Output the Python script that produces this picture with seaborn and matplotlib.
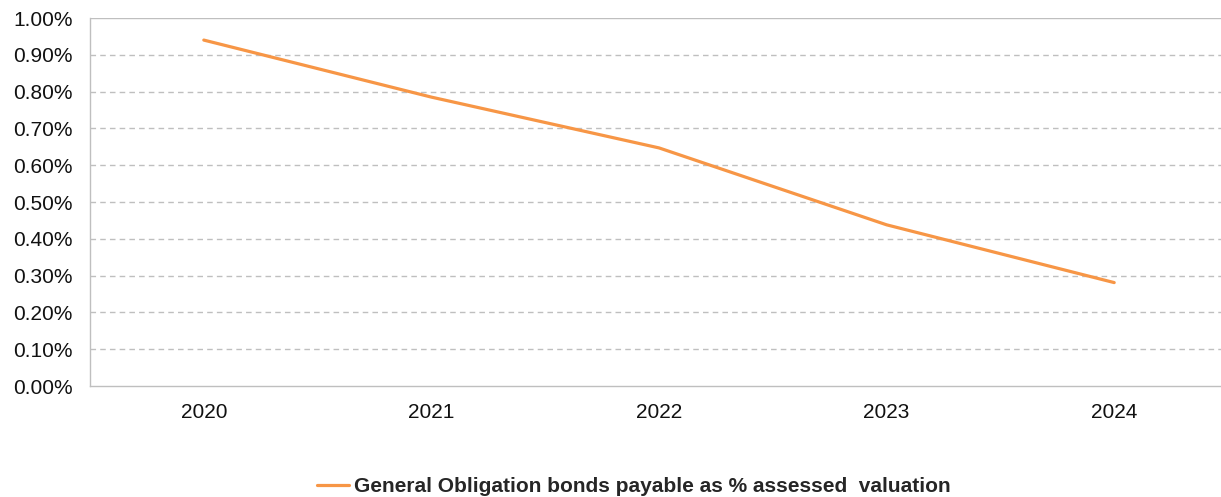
import matplotlib
matplotlib.use("Agg")
import matplotlib.pyplot as plt
import seaborn as sns
import pandas as pd
from matplotlib.ticker import FuncFormatter, MultipleLocator

years = ["2020", "2021", "2022", "2023", "2024"]
go_pct = [0.94, 0.785, 0.647, 0.438, 0.281]
series_name = "General Obligation bonds payable as % assessed  valuation"

sns.set_style("white")
plt.rcParams["font.family"] = ["Liberation Sans", "DejaVu Sans"]

df = pd.DataFrame({"year": years, "value": go_pct})

W, H = 1221, 497
fig = plt.figure(figsize=(W / 100, H / 100), dpi=100)
ax = fig.add_axes([90 / W, 111 / H, 1138 / W, 368 / H])

sns.lineplot(data=df, x="year", y="value", ax=ax, color="#F79646",
             linewidth=2.3, label=series_name, legend=False, sort=False)

ax.set_xlim(-0.5, len(years) - 0.5)
ax.set_ylim(0, 1.0)
ax.yaxis.set_major_locator(MultipleLocator(0.1))
ax.yaxis.set_major_formatter(FuncFormatter(lambda v, p: f"{v:.2f}%"))

for v in [i / 10 for i in range(1, 10)]:
    ax.axhline(v, color="#BFBFBF", linewidth=1.0, linestyle=(0, (4, 3)), zorder=0)
ax.axhline(1.0, color="#BFBFBF", linewidth=1.0, zorder=0)

ax.set_xticks(range(len(years)))
ax.set_xticklabels(years)
ax.set_xticks([i - 0.5 for i in range(len(years) + 1)], minor=True)
ax.tick_params(axis="x", which="major", length=0, labelsize=15, pad=12, labelcolor="#111111")
ax.tick_params(axis="x", which="minor", length=5, color="#BFBFBF", width=1, direction="out")
ax.tick_params(axis="y", which="major", length=5, color="#BFBFBF", width=1, labelsize=15,
               labelcolor="#111111", pad=7.5, direction="out")
ax.set_xlabel("")
ax.set_ylabel("")

for s in ["left", "bottom"]:
    ax.spines[s].set_color("#BFBFBF")
    ax.spines[s].set_linewidth(1.0)
ax.spines["top"].set_visible(False)
ax.spines["right"].set_visible(False)

handles, labels = ax.get_legend_handles_labels()
fig.legend(handles, labels, loc="center", bbox_to_anchor=(634 / W, 10 / H),
           frameon=False, handlelength=1.55, handletextpad=0.25,
           prop={"size": 15, "weight": "bold"})

fig.savefig("out.png", dpi=100)
